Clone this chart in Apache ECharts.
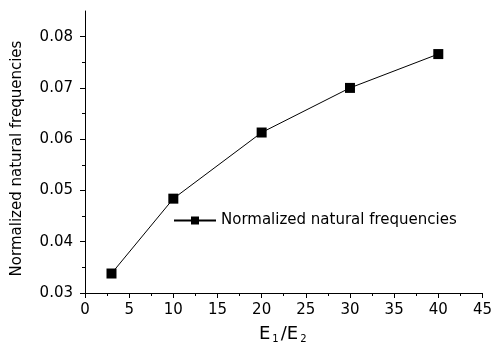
<!DOCTYPE html>
<html>
<head>
<meta charset="utf-8">
<script src="https://cdn.jsdelivr.net/npm/echarts@6/dist/echarts.min.js"></script>
<style>
  html, body {margin: 0; padding: 0; background: #fff;}
  #main {width: 495px; height: 349px;}
</style>
</head>
<body>
<div id="main"></div>
<script>
  const ratios = [3, 10, 20, 30, 40];
  const freqs = [0.0338, 0.0484, 0.0613, 0.0700, 0.0766];
  const yTicks = [0.03, 0.04, 0.05, 0.06, 0.07, 0.08];
  const yMinorTicks = [0.035, 0.045, 0.055, 0.065, 0.075];
  const seriesName = 'Normalized natural frequencies';
  const yName = 'Normalized natural frequencies';

  const font = '"DejaVu Sans", sans-serif';
  const chart = echarts.init(document.getElementById('main'));
  chart.setOption({
    animation: false,
    textStyle: {fontFamily: font},
    grid: {left: 85, right: 9, top: 11, bottom: 56},
    legend: {
      data: [seriesName],
      left: 168,
      top: 208,
      itemWidth: 42,
      itemHeight: 10,
      textStyle: {fontSize: 15, color: '#000', fontFamily: font}
    },
    xAxis: {
      type: 'value',
      min: 0,
      max: 45,
      interval: 5,
      name: '{n|E}{s|1}{n|/E}{s|2}',
      nameLocation: 'middle',
      nameGap: 31,
      nameTextStyle: {
        rich: {
          n: {fontSize: 18, color: '#000', fontFamily: font},
          s: {fontSize: 10, color: '#000', fontFamily: font, verticalAlign: 'bottom', padding: [10, 2, 0, 2]}
        }
      },
      axisLine: {lineStyle: {color: '#000', width: 1}},
      axisTick: {length: 5, inside: false, lineStyle: {color: '#000'}},
      minorTick: {show: true, splitNumber: 2, length: 3, lineStyle: {color: '#000'}},
      axisLabel: {fontSize: 15, color: '#000', margin: 10},
      splitLine: {show: false}
    },
    yAxis: [{
      type: 'value',
      min: 0.03,
      max: 0.085,
      name: yName,
      nameLocation: 'middle',
      nameGap: 60,
      nameTextStyle: {fontSize: 15, color: '#000', padding: [0, 13, 0, 0]},
      axisLine: {show: true, lineStyle: {color: '#000', width: 1}},
      axisTick: {length: 5, customValues: yTicks, lineStyle: {color: '#000'}},
      axisLabel: {fontSize: 15, color: '#000', margin: 12, customValues: yTicks,
        formatter: v => v.toFixed(2)},
      splitLine: {show: false}
    }, {
      type: 'value',
      position: 'left',
      min: 0.03,
      max: 0.085,
      axisLine: {show: false},
      axisTick: {show: true, length: 3, customValues: yMinorTicks, lineStyle: {color: '#000'}},
      axisLabel: {show: false},
      splitLine: {show: false}
    }],
    series: [{
      name: seriesName,
      type: 'line',
      data: ratios.map((x, i) => [x, freqs[i]]),
      symbol: 'rect',
      symbolSize: 10,
      lineStyle: {color: '#000', width: 1},
      itemStyle: {color: '#000'}
    }]
  });
</script>
</body>
</html>
